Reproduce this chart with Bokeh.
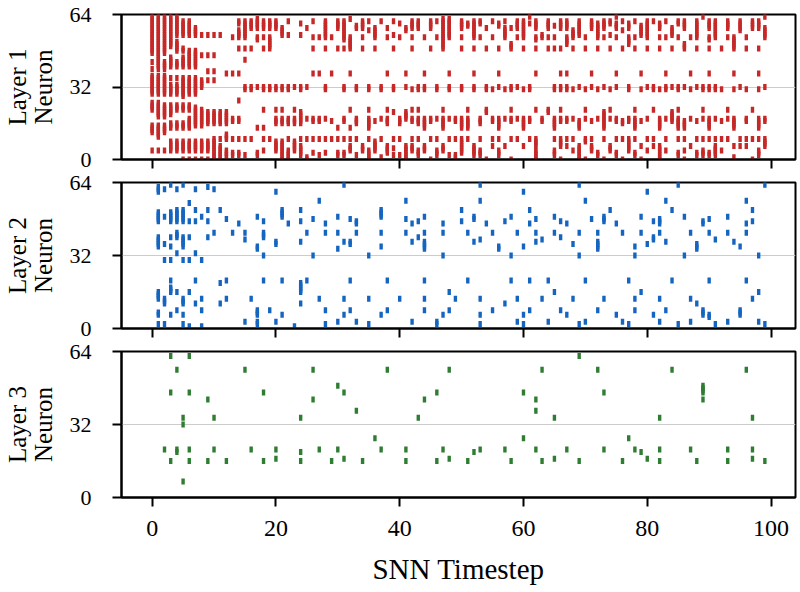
from bokeh.plotting import figure
from bokeh.layouts import column
from bokeh.models import Range1d, FixedTicker, ColumnDataSource
from bokeh.embed import file_html
from bokeh.resources import INLINE

# Spike rasters: one entry per timestep (0..99); each entry lists the neuron
# indices that fired, with "a-b" meaning every neuron from a to b inclusive.
layer1_spikes = [
    "47-63 43 40 29-37 22-25 12-15 4",
    "40-63 29-37 19-25 10-15 4",
    "47-63 40-43 29-37 19-24 12-15 4",
    "50-63 41-45 36 29-33 20-24 14-16 4-8",
    "55-63 48-52 41-43 36 29-33 22-24 14-16 4-8",
    "55-61 48-49 41-45 28-36 22-24 14-16 4-8 0",
    "55-61 41-48 29-36 22-24 14-18 4-8 0",
    "55-58 41-48 29-36 15-23 4-8 0",
    "55 46 32-35 15-22 4-8 0",
    "55 46 39 35 16-21 4-8 0",
    "55 46 39 35 16-21 0-9",
    "55 16-21 9 0-6",
    "38 16-21 9-11 1-4",
    "54 38 17-18 9 2-3",
    "60-61 54-57 49 38 26 17-18 9 2-3",
    "54-61 49 44 31-32 9 2",
    "58-61 49 31-32 9",
    "58-62 53-54 32 14 2-3",
    "58-61 54 49 31-32 22 14 9 4",
    "58-61 49-54 31-32 9",
    "58-61 31-32 22 16-18 4-8",
    "55-58 31-32 22 16-18 0-8",
    "61 55 31-32 16-18 9 0-4",
    "32 22 16-18 4-8",
    "60 55 31-32 16-21 9 2-6",
    "58 32 18 9 0-1",
    "61 54 49 38 17-18 9 3",
    "54 38 17-18 9 2",
    "54-61 49 31-32 18 9 3",
    "54 38 17 9",
    "58-61 49 14 9 2-3",
    "53-61 49 31-32 17-18 9 2-3",
    "62 49-54 38 22 14 9 4-6",
    "58-59 31-32 16-18 9 2",
    "58-61 54 49 4-6",
    "61 57 31-32 22 14-18 9 0-4",
    "54-58 49 17 4-8",
    "61 31-32 18 9 1",
    "58 54 38 22 16-18 3-6",
    "61 55 49 31-32 21 9 5 2",
    "60 54 16-18 9 2",
    "57-58 38 32 18-21 0-6",
    "58-61 54 49 31 22 17-18 9 4-6",
    "58-61 31-32 22 16-18 9 2-4",
    "54 38 31-32 14-18 4-6",
    "58-61 49 17-18 9 0",
    "61 54 31-32 18 9 2-4",
    "49-62 22 14-18 4-6",
    "54-62 38 31-32 18 9 2",
    "17-18 9 1-2",
    "58-61 54 49 31-32 14-18 3-9",
    "59-60 22 14-18 9",
    "54-61 49 38 31-32 2-6",
    "60-61 54 16-18 9 2-4",
    "58 49 31-32 21-22 0",
    "61 54 31 17-18 9 6",
    "59-60 49 38 32 14-18 9 2-4",
    "61 54-58 31 18 6",
    "58 49-51 31-32 22 17-18 9 0",
    "58-61 54 32 18 9",
    "54-61 49 31 14-18 6",
    "63 60 31-32 17-18 9",
    "58-61 53-54 49 38 22 6-9 0-4",
    "54-55 17-18",
    "58-61 54 49 21-22",
    "59 54 49 31-32 14-18 9 2-4",
    "58-61 49 38 31-32 22 17-18 6-9 0",
    "58-61 51-54 38 31-32 17-18 9 6",
    "54-57 49 31 18 9 4",
    "55-61 32 14-17 0-6",
    "54 49 31 22 18 8-9 0",
    "58-61 38 32 17 9 4-6",
    "54-60 49 31 18 2-3",
    "58-61 54 32 14-21 9 0",
    "60-61 55 49 31 22 18 4-6",
    "63 58-60 54 38 32 17-18 9 2-3",
    "61 57 49 16-17 9 0",
    "58-60 51-54 31-32 17-18 4-9",
    "61 54 49 22 14-18 9 2-3",
    "55-59 38 31 17 6 0",
    "54-61 49 32 18 9 4",
    "61 31-32 22 9 6",
    "58-60 54 49 31 14-18 0-6",
    "61 54 38 31-32 18 9 4",
    "55-58 49 32 17-21",
    "60-61 54 31-32 22 14-18 9 2-3",
    "58-61 49-51 32 14-17 9 4 0",
    "54 38 31 18 6",
    "54-61 49 32 17 9 2-3",
    "63 31-32 22 18 9 2-4",
    "58-61 53-54 49 38 31-32 14-18 9 2-3",
    "54-61 31-32 18 9 2-6",
    "49 31 17 9 4",
    "58-61 54 22 18 9",
    "49-54 38 31 14-18 6 1",
    "57-61 32 9 6",
    "54 49 31 17-18 9 6",
    "58-61 22 9 0",
    "58-61 49 38 31 14-18 9 2-4",
    "63 54-58 32 17-18 6-9",
]

layer2_spikes = [
    "",
    "60-62 47-51 36-40 13-16 6-7 2",
    "61 49 37 30 11-13 2",
    "63 47-51 40 36 30 21 16-18 6",
    "61 47-52 40-42 33 16 8",
    "63 47-52 36-40 30 11-13 6 2",
    "55 47 40 30 16 1",
    "61 52 47 33 21 11",
    "49 30 13 8 1",
    "62 52 47 40",
    "61 42",
    "52 20 11",
    "48 21 13",
    "42",
    "46",
    "42 39 3",
    "13",
    "49 35-36 6-8 2-3",
    "47 40-42 32 21",
    "8",
    "60 37-38 3",
    "49-52 21 6",
    "46",
    "1",
    "52 47 38 16-20 11",
    "42 21",
    "48 32",
    "56 13",
    "46 42 8 2",
    "",
    "49 42 35 3",
    "63 38 13 6",
    "48 37-38 21 8",
    "46-47 42 3",
    "",
    "32 13 2",
    "",
    "49-52 42 36 6",
    "21 8",
    "",
    "13",
    "56 48 42",
    "46 38 3",
    "47 40",
    "49 42 35-38 21 13 8",
    "",
    "2-3",
    "46 42 32 6",
    "16 8",
    "13",
    "52 47",
    "42 21",
    "48-49 38",
    "63 56 39 13 6 2",
    "46",
    "42 8",
    "35-36",
    "47 11",
    "49 32 21",
    "42 13 3",
    "60 36 6 2",
    "52 46 21 8",
    "48 42 38",
    "39 13",
    "21 3",
    "49 42 16",
    "47 40 8",
    "46 6",
    "37 13",
    "63 42 32 2",
    "56 21 3",
    "48",
    "42 35-38 8",
    "47-49 13",
    "52",
    "46 6",
    "42 3",
    "21 2",
    "36 32 13 8",
    "49 42 16",
    "60 37",
    "47 39-40 6",
    "46-48 42 13 3",
    "56 38 8",
    "52 21",
    "63 2",
    "49 32",
    "42 13 3",
    "35-37 11",
    "46-47 6-8",
    "48 42 21 5-6",
    "39 2",
    "",
    "49 42 3",
    "38",
    "36 6-8",
    "56 46 42 21",
    "52 47 13",
    "32 16 3",
    "63 2",
]

layer3_spikes = [
    "", "", "21", "62 46 16", "56 20-21", "35 32 7", "62 46 21 16", "", "", "43 16",
    "35 21", "", "16", "", "", "56", "21", "", "46 16", "",
    "21 17", "", "", "", "35 20 16", "", "56 43", "21", "", "16",
    "49 21", "46 17", "", "38", "16", "", "26", "21", "56", "",
    "", "21 16", "", "35", "43", "", "46 16", "21", "56 17", "",
    "", "16", "20", "21", "", "", "", "21", "16", "",
    "46 26", "", "43 38 21", "56 16", "", "35 17", "", "21", "", "62 16",
    "", "", "56", "46 21", "", "", "16", "26", "21", "20",
    "17", "", "35 21 16", "", "56", "", "", "21", "16", "46-49 43",
    "", "", "", "21 16", "", "", "56", "35 21 17", "", "16",
]

layer_names = ["Layer 1\nNeuron", "Layer 2\nNeuron", "Layer 3\nNeuron"]
layer_colors = ["#c62828", "#1565c0", "#2e7d32"]
neuron_ticks = [0, 32, 64]
time_ticks = [0, 20, 40, 60, 80, 100]

FONT = "Liberation Serif"


def expand(spec_list):
    ts, ns = [], []
    for t, spec in enumerate(spec_list):
        for tok in spec.split():
            if "-" in tok:
                a, b = (int(v) for v in tok.split("-"))
                cells = range(a, b + 1)
            else:
                cells = [int(tok)]
            for n in cells:
                ts.append(t)
                ns.append(n)
    return ts, ns


def raster_panel(spikes, name, color, height, top, bottom, last):
    p = figure(width=800, height=height,
               x_range=Range1d(-4.95, 103.95), y_range=Range1d(0, 64),
               output_backend="svg", toolbar_location=None,
               min_border_left=119, min_border_right=5,
               min_border_top=top, min_border_bottom=bottom)
    ts, ns = expand(spikes)
    src = ColumnDataSource(dict(t=ts, n=ns))
    p.rect(x="t", y="n", width=3.4, height=6, width_units="screen",
           height_units="screen", source=src, fill_color=color,
           line_color=None)

    p.outline_line_color = "black"
    p.outline_line_width = 2
    p.outline_line_alpha = 1.0
    p.background_fill_color = "white"
    p.border_fill_color = "white"

    p.xgrid.visible = False
    p.ygrid.ticker = FixedTicker(ticks=[32])
    p.ygrid.grid_line_color = "#cccccc"
    p.ygrid.grid_line_width = 1.2

    for ax in (p.xaxis[0], p.yaxis[0]):
        ax.axis_line_color = "black"
        ax.axis_line_width = 2
        ax.major_tick_line_color = "black"
        ax.major_tick_line_width = 2
        ax.major_tick_out = 9
        ax.major_tick_in = 0
        ax.minor_tick_line_color = None
        ax.major_label_text_font = FONT
        ax.axis_label_text_font = FONT
        ax.axis_label_text_font_style = "normal"
        ax.major_label_text_color = "black"
        ax.axis_label_text_color = "black"

    p.yaxis.ticker = FixedTicker(ticks=neuron_ticks)
    p.yaxis.major_label_text_font_size = "22px"
    p.yaxis.major_label_standoff = 21
    p.yaxis.axis_label = name
    p.yaxis.axis_label_text_font_size = "25px"
    p.yaxis.axis_label_text_line_height = 0.95
    p.yaxis.axis_label_standoff = 10

    p.xaxis.ticker = FixedTicker(ticks=time_ticks)
    if last:
        p.xaxis.major_label_text_font_size = "24px"
        p.xaxis.major_label_standoff = 14
        p.xaxis.axis_label = "SNN Timestep"
        p.xaxis.axis_label_text_font_size = "29px"
        p.xaxis.axis_label_standoff = 14
    else:
        # shared time axis: tick marks only on the upper panels
        p.xaxis.major_label_overrides = {v: "" for v in time_ticks}
        p.xaxis.major_label_text_font_size = "1px"
        p.xaxis.major_label_standoff = 0
    return p


p1 = raster_panel(layer1_spikes, layer_names[0], layer_colors[0], 170, 14, 11, False)
p2 = raster_panel(layer2_spikes, layer_names[1], layer_colors[1], 169, 12, 11, False)
p3 = raster_panel(layer3_spikes, layer_names[2], layer_colors[2], 253, 12, 95, True)

page = column(p1, p2, p3, spacing=0)
open("out.html", "w").write(file_html(page, INLINE))
